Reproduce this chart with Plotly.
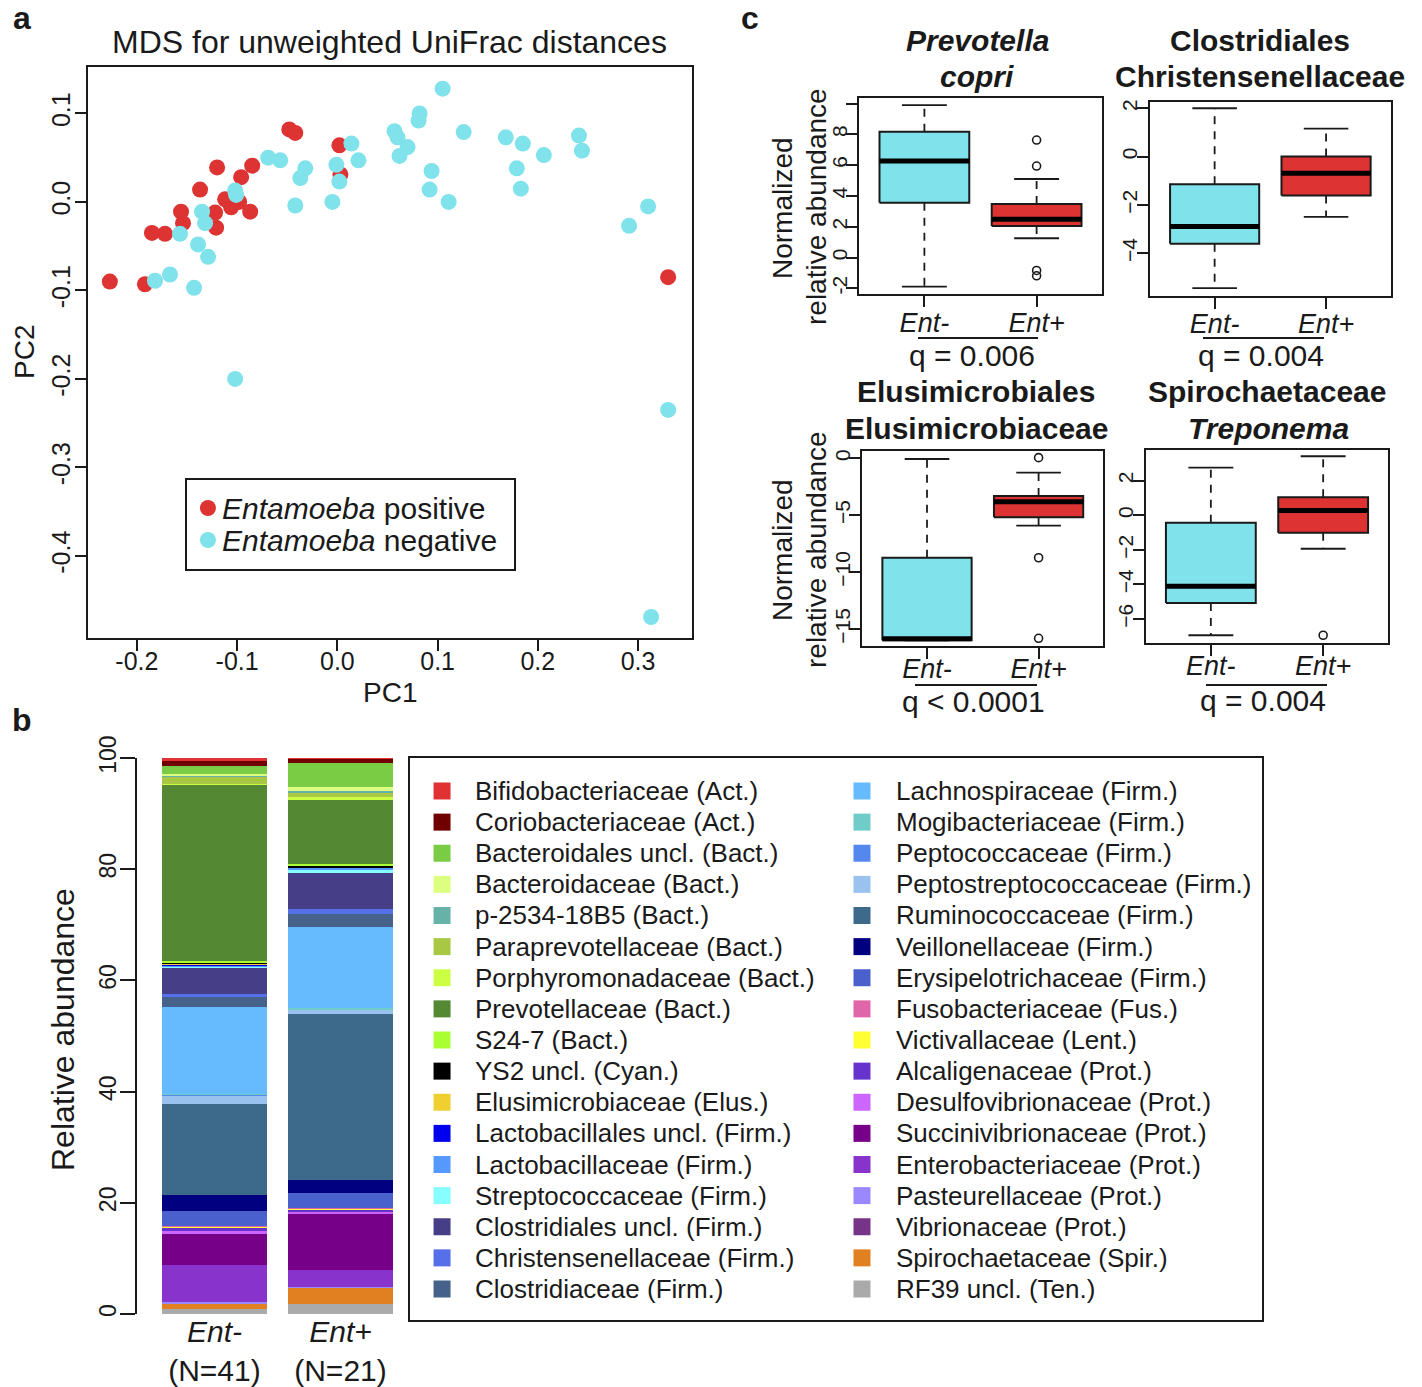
import plotly.graph_objects as go

W, H = 1422, 1387
FONT = "Liberation Sans, Arial, Helvetica, sans-serif"
INK = "#1a1a1a"
RED = "#DD3333"
CYAN = "#80E2EA"

# ---------------- Panel a: MDS (unweighted UniFrac) ----------------
pos_pc1 = [-0.227, -0.192, -0.185, -0.172, -0.156, -0.154, -0.137, -0.120, -0.121, -0.122,
           -0.112, -0.106, -0.098, -0.096, -0.085, -0.087, -0.048, -0.042, 0.002, 0.003, 0.330]
pos_pc2 = [-0.090, -0.093, -0.035, -0.036, -0.011, -0.024, 0.014, 0.039, -0.029, -0.012,
           0.003, -0.006, 0.000, 0.028, 0.041, -0.011, 0.082, 0.078, 0.064, 0.031, -0.085]
neg_pc1 = [0.105, 0.082, 0.081, 0.057, 0.060, 0.070, 0.062, 0.126, 0.168, 0.185, 0.206, 0.241,
           0.244, 0.094, 0.092, 0.111, 0.179, 0.183, 0.310, 0.291, 0.014, 0.021, -0.001, 0.002,
           -0.005, -0.032, -0.037, -0.042, -0.069, -0.057, -0.102, -0.101, -0.135, -0.132,
           -0.157, -0.139, -0.129, -0.167, -0.182, -0.143, -0.102, 0.330, 0.313]
neg_pc2 = [0.128, 0.100, 0.092, 0.080, 0.073, 0.062, 0.052, 0.079, 0.073, 0.066, 0.053, 0.075,
           0.058, 0.035, 0.014, 0.000, 0.038, 0.015, -0.005, -0.027, 0.066, 0.047, 0.042, 0.023,
           0.000, 0.038, 0.027, -0.004, 0.050, 0.047, 0.013, 0.008, -0.011, -0.024,
           -0.036, -0.048, -0.062, -0.082, -0.089, -0.097, -0.200, -0.235, -0.469]
pc1_ticks = [-0.2, -0.1, 0.0, 0.1, 0.2, 0.3]
pc2_ticks = [-0.4, -0.3, -0.2, -0.1, 0.0, 0.1]
mds_legend = ["<i>Entamoeba</i> positive", "<i>Entamoeba</i> negative"]

# ---------------- Panel b: family composition ----------------
families = ["Bifidobacteriaceae (Act.)", "Coriobacteriaceae (Act.)", "Bacteroidales uncl. (Bact.)",
            "Bacteroidaceae (Bact.)", "p-2534-18B5 (Bact.)", "Paraprevotellaceae (Bact.)",
            "Porphyromonadaceae (Bact.)", "Prevotellaceae (Bact.)", "S24-7 (Bact.)",
            "YS2 uncl. (Cyan.)", "Elusimicrobiaceae (Elus.)", "Lactobacillales uncl. (Firm.)",
            "Lactobacillaceae (Firm.)", "Streptococcaceae (Firm.)", "Clostridiales uncl. (Firm.)",
            "Christensenellaceae (Firm.)", "Clostridiaceae (Firm.)", "Lachnospiraceae (Firm.)",
            "Mogibacteriaceae (Firm.)", "Peptococcaceae (Firm.)", "Peptostreptococcaceae (Firm.)",
            "Ruminococcaceae (Firm.)", "Veillonellaceae (Firm.)", "Erysipelotrichaceae (Firm.)",
            "Fusobacteriaceae (Fus.)", "Victivallaceae (Lent.)", "Alcaligenaceae (Prot.)",
            "Desulfovibrionaceae (Prot.)", "Succinivibrionaceae (Prot.)", "Enterobacteriaceae (Prot.)",
            "Pasteurellaceae (Prot.)", "Vibrionaceae (Prot.)", "Spirochaetaceae (Spir.)",
            "RF39 uncl. (Ten.)"]
family_colors = ["#E03232", "#700000", "#7ACC44", "#DDFF80", "#66B2A8", "#A8C844", "#CCFF44",
                 "#558833", "#AAFF33", "#000000", "#F0D030", "#0000EE", "#5599FF", "#88FFFF",
                 "#463F88", "#5570E8", "#46628A", "#66BBFF", "#70CCC8", "#5588EE", "#99C2EE",
                 "#3D6A8A", "#000080", "#4A60CC", "#E066AA", "#FFFF33", "#6633CC", "#CC66FF",
                 "#770088", "#8833CC", "#9988FF", "#773388", "#E08020", "#AAAAAA"]
groups_b = ["Ent-", "Ent+"]
group_labels_b = ["<i>Ent-</i><br>(N=41)", "<i>Ent+</i><br>(N=21)"]
ent_neg = [0.48, 0.90, 1.50, 0.28, 0.10, 1.38, 0.20, 31.70, 0.34, 0.14, 0.14, 0.14, 0.14, 0.40,
           4.60, 0.55, 1.80, 15.60, 0.14, 0.10, 1.58, 16.40, 2.90, 2.60, 0.20, 0.20, 0.55, 0.55,
           5.60, 6.70, 0.14, 0.10, 0.96, 0.90]
ent_pos = [0.10, 0.90, 4.20, 0.83, 0.20, 0.83, 0.55, 11.50, 0.40, 0.14, 0.07, 0.07, 0.30, 0.55,
           6.60, 0.76, 2.40, 14.60, 0.20, 0.07, 0.76, 29.80, 2.50, 2.60, 0.10, 0.20, 0.30, 0.55,
           10.10, 3.00, 0.07, 0.07, 2.90, 1.80]
abund_ticks = [0, 20, 40, 60, 80, 100]

# ---------------- Panel c: box plots (lower, q1, median, q3, upper) ----------------
box_groups = ["Ent-", "Ent+"]
prev_stats = [[-1.89, 3.56, 6.27, 8.17, 9.90], [1.25, 2.05, 2.48, 3.48, 5.10]]
prev_out = [[], [7.63, 5.94, -0.84, -1.19]]
chri_stats = [[-5.45, -3.61, -2.89, -1.15, 2.00], [-2.50, -1.61, -0.69, 0.00, 1.16]]
chri_out = [[], []]
elus_stats = [[-16.00, -16.00, -15.85, -8.74, -0.06], [-5.92, -5.19, -3.81, -3.31, -1.26]]
elus_out = [[], [0.06, -8.74, -15.82]]
trep_stats = [[-6.94, -5.07, -4.10, -0.44, 2.75], [-1.94, -1.02, 0.27, 1.04, 3.41]]
trep_out = [[], [-6.94]]
prev_ticks = [-2, 0, 2, 4, 6, 8, 10]
prev_ticktext = ["-2", "0", "2", "4", "6", "8", ""]
chri_ticks = [-4, -2, 0, 2]
elus_ticks = [-15, -10, -5, 0]
trep_ticks = [-6, -4, -2, 0, 2]


def px(x):
    return x / W


def py(y):
    return 1 - y / H


fig = go.Figure()

# ---- panel a traces
mds_colors = [RED, CYAN]
for name, xs, ys, col in zip(mds_legend, [pos_pc1, neg_pc1], [pos_pc2, neg_pc2], mds_colors):
    fig.add_trace(go.Scatter(x=xs, y=ys, mode="markers", name=name,
                             marker=dict(color=col, size=16, line=dict(width=0)),
                             xaxis="x", yaxis="y", showlegend=False))

# ---- panel a legend (own box axes)
fig.add_trace(go.Scatter(x=[0.064] * len(mds_legend), y=list(range(len(mds_legend))), mode="markers",
                         marker=dict(color=mds_colors, size=16, line=dict(width=0)),
                         xaxis="x8", yaxis="y8", showlegend=False, hoverinfo="skip"))
annotations = []
for r, name in enumerate(mds_legend):
    annotations.append(dict(x=0.100, y=r, xref="x8", yref="y8", text=name, showarrow=False,
                            xanchor="left", yanchor="middle", font=dict(family=FONT, size=30, color=INK)))

# ---- panel b stacked bars (bottom = last family)
for fam, col, vn, vp in reversed(list(zip(families, family_colors, ent_neg, ent_pos))):
    fig.add_trace(go.Bar(x=groups_b, y=[vn, vp], name=fam, marker=dict(color=col, line=dict(width=0)),
                         xaxis="x2", yaxis="y2", showlegend=False))

# ---- panel b legend (own axes)
nrows = (len(families) + 1) // 2
leg_col = [i // nrows for i in range(len(families))]
leg_row = [i % nrows for i in range(len(families))]
SW_X = [0.0376, 0.5305]
TX_X = [0.0740, 0.5680]
fig.add_trace(go.Scatter(x=[SW_X[c] for c in leg_col], y=leg_row, mode="markers",
                         marker=dict(symbol="square", size=17, color=family_colors, line=dict(width=0)),
                         xaxis="x3", yaxis="y3", showlegend=False, hoverinfo="skip"))
for fam, c, r in zip(families, leg_col, leg_row):
    annotations.append(dict(x=TX_X[c], y=r, xref="x3", yref="y3", text=fam, showarrow=False,
                            xanchor="left", yanchor="middle", font=dict(family=FONT, size=26, color=INK)))

# ---- panel c box plots
BOXW = 0.4
STAPLE = 0.2
box_panels = [("x4", "y4", prev_stats, prev_out), ("x5", "y5", chri_stats, chri_out),
              ("x6", "y6", elus_stats, elus_out), ("x7", "y7", trep_stats, trep_out)]
for xa, ya, stats, outs in box_panels:
    for i, (g, st, ol, col) in enumerate(zip(box_groups, stats, outs, [CYAN, RED])):
        c = i + 1
        lo, q1, md, q3, hi = st
        common = dict(xaxis=xa, yaxis=ya, showlegend=False, hoverinfo="skip")
        fig.add_trace(go.Scatter(x=[c, c, None, c, c], y=[q3, hi, None, q1, lo], mode="lines",
                                 line=dict(color=INK, width=1.8, dash="8px,7px"), **common))
        fig.add_trace(go.Scatter(x=[c - STAPLE, c + STAPLE, None, c - STAPLE, c + STAPLE],
                                 y=[hi, hi, None, lo, lo], mode="lines",
                                 line=dict(color=INK, width=1.8), **common))
        fig.add_trace(go.Scatter(x=[c - BOXW, c + BOXW, c + BOXW, c - BOXW, c - BOXW],
                                 y=[q1, q1, q3, q3, q1], mode="lines", fill="toself", fillcolor=col,
                                 line=dict(color=INK, width=2), **common))
        fig.add_trace(go.Scatter(x=[c - BOXW, c + BOXW], y=[md, md], mode="lines",
                                 line=dict(color="#000000", width=5), **common))
        if ol:
            fig.add_trace(go.Scatter(x=[c] * len(ol), y=ol, mode="markers",
                                     marker=dict(symbol="circle-open", size=8, color=INK,
                                                 line=dict(width=1.6)), **common))

base_axis = dict(showline=True, mirror=True, linecolor=INK, linewidth=2, ticks="outside",
                 tickcolor=INK, tickwidth=1.6, showgrid=False, zeroline=False, automargin=False)
box_axis = dict(showline=True, mirror=True, linecolor=INK, linewidth=2, showticklabels=False,
                ticks="", showgrid=False, zeroline=False, fixedrange=True, automargin=False)

layout = dict(
    width=W, height=H, margin=dict(l=0, r=0, t=0, b=0, pad=0, autoexpand=False),
    paper_bgcolor="white", plot_bgcolor="white",
    font=dict(family=FONT, color=INK), barmode="stack", bargap=0.171,
    showlegend=False,
    # panel a
    xaxis=dict(domain=[px(88), px(692)], range=[-0.2488, 0.3538], tickvals=pc1_ticks,
               ticktext=[f"{v:.1f}" for v in pc1_ticks], ticklen=11, ticklabelstandoff=-11,
               tickfont=dict(size=25, family=FONT, color=INK), **base_axis),
    yaxis=dict(domain=[py(638), py(67)], range=[-0.4927, 0.1525], tickvals=pc2_ticks,
               ticktext=[f"{v:.1f}" for v in pc2_ticks], ticklen=11, tickangle=-90,
               ticklabelstandoff=-5, tickfont=dict(size=25, family=FONT, color=INK), **base_axis),
    # panel a legend box
    xaxis8=dict(domain=[px(187), px(514)], range=[0, 1], anchor="y8", **box_axis),
    yaxis8=dict(domain=[py(569), py(480)], range=[1.906, -0.875], anchor="x8", **box_axis),
    # panel b
    xaxis2=dict(domain=[px(136.7), px(410)], range=[-0.617, 1.5516], type="category",
                tickvals=groups_b, ticktext=group_labels_b, showline=False, ticks="",
                showgrid=False, zeroline=False, tickfont=dict(size=30, family=FONT, color=INK),
                anchor="y2", ticklabelstandoff=-3, automargin=False),
    yaxis2=dict(domain=[py(1314), py(758)], range=[0, 100], tickvals=abund_ticks, ticklen=15,
                tickangle=-90, showline=True, linecolor=INK, linewidth=1.6, ticks="outside",
                tickcolor=INK, tickwidth=1.6, showgrid=False, zeroline=False, anchor="x2",
                ticklabelstandoff=-5, tickfont=dict(size=23, family=FONT, color=INK), automargin=False),
    # panel b legend box
    xaxis3=dict(domain=[px(410), px(1262)], range=[0, 1], anchor="y3", **box_axis),
    yaxis3=dict(domain=[py(1320), py(758)], range=[16.996, -1.06], anchor="x3", **box_axis),
)

box_dom = [([859.3, 1101.7], [98.3, 294.3], [-2.39, 10.34], prev_ticks, prev_ticktext, -8, -9),
           ([1150.0, 1390.7], [101.5, 295.7], [-5.76, 2.28], chri_ticks, None, -8, -8),
           ([862.3, 1103.3], [450.7, 645.7], [-16.47, 0.67], elus_ticks, None, -13, -9),
           ([1145.7, 1388.3], [450.0, 642.7], [-7.37, 3.77], trep_ticks, None, -13, -9)]
for k, (xd, yd, yr, yt, ytt, xso, yso) in enumerate(box_dom):
    n = k + 4
    layout[f"xaxis{n}"] = dict(domain=[px(xd[0]), px(xd[1])], range=[0.42, 2.58], tickvals=[1, 2],
                               ticktext=["<i>" + g + "</i>" for g in box_groups], ticklen=11,
                               ticklabelstandoff=xso, anchor=f"y{n}",
                               tickfont=dict(size=27, family=FONT, color=INK), **base_axis)
    ya = dict(domain=[py(yd[1]), py(yd[0])], range=yr, tickvals=yt, ticklen=11, tickangle=-90,
              ticklabelstandoff=yso, anchor=f"x{n}", tickfont=dict(size=21, family=FONT, color=INK),
              **base_axis)
    if ytt is not None:
        ya["ticktext"] = ytt
    layout[f"yaxis{n}"] = ya


def ann(x, y, text, size, angle=0, **kw):
    d = dict(x=px(x), y=py(y), xref="paper", yref="paper", text=text, showarrow=False,
             xanchor="center", yanchor="middle", textangle=angle,
             font=dict(family=FONT, size=size, color=INK))
    d.update(kw)
    return d


annotations += [
    ann(22, 18, "<b>a</b>", 32), ann(22, 720, "<b>b</b>", 32), ann(750, 18, "<b>c</b>", 32),
    ann(389, 42, "MDS for unweighted UniFrac distances", 32),
    ann(390, 693, "PC1", 28), ann(24, 352, "PC2", 28, angle=-90),
    ann(63, 1030, "Relative abundance", 32, angle=-90),
    ann(977, 41, "<b><i>Prevotella</i></b>", 30), ann(977, 77, "<b><i>copri</i></b>", 30),
    ann(1260, 41, "<b>Clostridiales</b>", 30), ann(1260, 77, "<b>Christensenellaceae</b>", 30),
    ann(976, 391, "<b>Elusimicrobiales</b>", 30), ann(976, 428, "<b>Elusimicrobiaceae</b>", 30),
    ann(1267, 391, "<b>Spirochaetaceae</b>", 30), ann(1268, 428, "<b><i>Treponema</i></b>", 30),
    ann(782, 208, "Normalized", 28, angle=-90), ann(816, 207, "relative abundance", 28, angle=-90),
    ann(782, 550, "Normalized", 28, angle=-90), ann(816, 550, "relative abundance", 28, angle=-90),
    ann(972, 355, "q = 0.006", 30), ann(1261, 355, "q = 0.004", 30),
    ann(973, 701, "q < 0.0001", 30), ann(1263, 700, "q = 0.004", 30),
]
layout["annotations"] = annotations

shapes = []
for x0, x1, yy in [(918, 1038, 338), (1203, 1324, 338), (915, 1037, 685), (1206, 1327, 685)]:
    shapes.append(dict(type="line", xref="paper", yref="paper", x0=px(x0), x1=px(x1), y0=py(yy),
                       y1=py(yy), line=dict(color=INK, width=1.8)))
layout["shapes"] = shapes

fig.update_layout(**layout)
fig.write_html("out.html", config={"displayModeBar": False},
               post_script="document.body.style.margin='0px';document.body.style.padding='0px';")
